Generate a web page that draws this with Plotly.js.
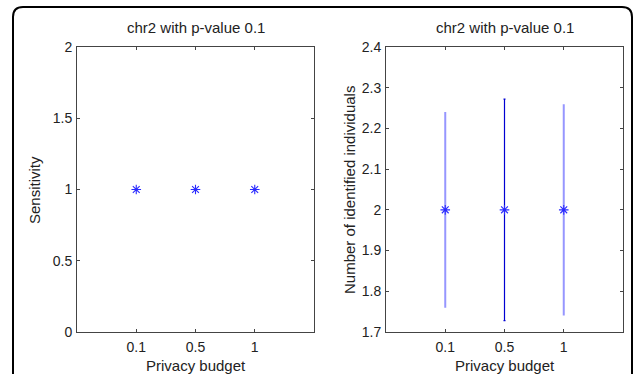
<!DOCTYPE html>
<html><head><meta charset="utf-8">
<script src="https://cdn.plot.ly/plotly-3.0.1.min.js"></script>
<style>html,body{margin:0;padding:0;background:#fff}</style>
</head><body>
<div id="chart" style="width:637px;height:374px"></div>
<script>
const budgets = ['0.1', '0.5', '1'];
const positions = [1, 2, 3];
const sensitivity = [1, 1, 1];
const identified = [2, 2, 2];
const identifiedErr = [0.238, 0.272, 0.257];
const barColors = ['rgba(80,80,255,0.6)', 'rgba(0,0,210,1)', 'rgba(80,80,255,0.6)'];
const barWidths = [2, 1.2, 2];

const W = 637, H = 374;
const px = v => v / W, py = v => 1 - v / H;
const font = {family: 'Liberation Sans, Arial, sans-serif', size: 15, color: '#222'};
const tickFont = {family: 'Liberation Sans, Arial, sans-serif', size: 14, color: '#222'};

const traces = [{
  x: positions, y: sensitivity, mode: 'markers', type: 'scatter',
  xaxis: 'x', yaxis: 'y',
  marker: {symbol: 'asterisk-open', size: 8, color: '#2a2aff', line: {color: '#2a2aff', width: 1.1}},
  hoverinfo: 'skip'
}];
positions.forEach((p, i) => {
  traces.push({
    x: [p], y: [identified[i]], mode: 'markers', type: 'scatter',
    xaxis: 'x2', yaxis: 'y2',
    marker: {symbol: 'asterisk-open', size: 8, color: '#2a2aff', line: {color: '#2a2aff', width: 1.1}},
    error_y: {type: 'data', array: [identifiedErr[i]], visible: true, color: barColors[i], thickness: barWidths[i], width: 1},
    hoverinfo: 'skip'
  });
});

const axBase = {
  showgrid: false, zeroline: false, showline: true, mirror: 'ticks',
  linecolor: '#444', linewidth: 1, ticks: 'inside', ticklen: 3, tickcolor: '#444',
  tickfont: tickFont, fixedrange: true
};

const rr = (x0, y0, x1, y1, r) => {
  return `M ${px(x0)},${py(y1)} L ${px(x0)},${py(y0 + r)} Q ${px(x0)},${py(y0)} ${px(x0 + r)},${py(y0)} ` +
         `L ${px(x1 - r)},${py(y0)} Q ${px(x1)},${py(y0)} ${px(x1)},${py(y0 + r)} L ${px(x1)},${py(y1)}`;
};

const layout = {
  width: W, height: H,
  margin: {l: 0, r: 0, t: 0, b: 0},
  paper_bgcolor: '#fff', plot_bgcolor: '#fff',
  showlegend: false, font: font,
  xaxis: Object.assign({}, axBase, {domain: [px(77), px(314)], range: [0, 4], tickvals: positions, ticktext: budgets, anchor: 'y', ticklabelstandoff: 2}),
  yaxis: Object.assign({}, axBase, {domain: [py(332), py(47)], range: [0, 2], tickvals: [0, 0.5, 1, 1.5, 2], ticktext: ['0', '0.5', '1', '1.5', '2'], anchor: 'x', ticklabelstandoff: 1}),
  xaxis2: Object.assign({}, axBase, {domain: [px(386), px(623)], range: [0, 4], tickvals: positions, ticktext: budgets, anchor: 'y2', ticklabelstandoff: 2}),
  yaxis2: Object.assign({}, axBase, {domain: [py(332), py(47)], range: [1.7, 2.4], tickvals: [1.7, 1.8, 1.9, 2, 2.1, 2.2, 2.3, 2.4], ticktext: ['1.7', '1.8', '1.9', '2', '2.1', '2.2', '2.3', '2.4'], anchor: 'x2', ticklabelstandoff: 1}),
  annotations: [
    {text: 'chr2 with p-value 0.1', xref: 'paper', yref: 'paper', x: px(195.5), y: py(28), showarrow: false, font: font, xanchor: 'center', yanchor: 'middle'},
    {text: 'chr2 with p-value 0.1', xref: 'paper', yref: 'paper', x: px(504.5), y: py(28), showarrow: false, font: font, xanchor: 'center', yanchor: 'middle'},
    {text: 'Privacy budget', xref: 'paper', yref: 'paper', x: px(195.5), y: py(365), showarrow: false, font: font, xanchor: 'center', yanchor: 'middle'},
    {text: 'Privacy budget', xref: 'paper', yref: 'paper', x: px(504.5), y: py(365), showarrow: false, font: font, xanchor: 'center', yanchor: 'middle'},
    {text: 'Sensitivity', xref: 'paper', yref: 'paper', x: px(34), y: py(190), showarrow: false, font: font, textangle: -90, xanchor: 'center', yanchor: 'middle'},
    {text: 'Number of identified individuals', xref: 'paper', yref: 'paper', x: px(349), y: py(190), showarrow: false, font: font, textangle: -90, xanchor: 'center', yanchor: 'middle'}
  ],
  shapes: [
    {type: 'path', xref: 'paper', yref: 'paper', path: rr(13, 7, 632, 380, 10), line: {color: '#000', width: 2}}
  ]
};

Plotly.newPlot('chart', traces, layout, {staticPlot: true, displayModeBar: false});
</script>
</body></html>
